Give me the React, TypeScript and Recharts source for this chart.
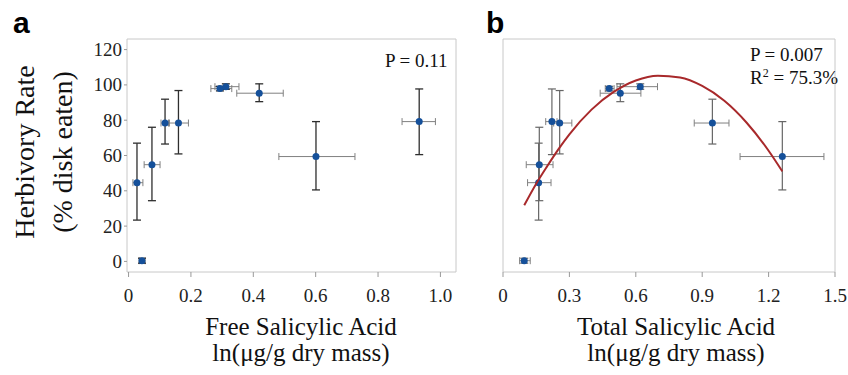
import React from 'react';
import { ScatterChart, Scatter, XAxis, YAxis, ErrorBar, ReferenceArea } from 'recharts';

// herbivory rate (% disk eaten) per sample, with error bar ends
const herbivory = [44.6, 0.4, 54.8, 78.4, 78.4, 97.9, 99.0, 95.3, 59.4, 79.2];
const herbLow = [23.4, -1.0, 34.4, 66.5, 60.9, 96.6, 97.5, 90.5, 40.5, 60.5];
const herbHigh = [67.0, 1.8, 76.0, 91.9, 96.8, 99.2, 100.6, 100.6, 79.2, 97.7];

// free salicylic acid, ln(ug/g dry mass)
const freeSA = [0.027, 0.043, 0.075, 0.117, 0.16, 0.293, 0.312, 0.419, 0.601, 0.932];
const freeSALow = [0.014, 0.034, 0.05, 0.104, 0.128, 0.264, 0.277, 0.347, 0.482, 0.877];
const freeSAHigh = [0.046, 0.053, 0.101, 0.131, 0.192, 0.331, 0.354, 0.496, 0.726, 0.984];

// total salicylic acid, ln(ug/g dry mass)
const totalSA = [0.161, 0.096, 0.164, 0.946, 0.256, 0.48, 0.62, 0.53, 1.262, 0.221];
const totalSALow = [0.111, 0.075, 0.105, 0.864, 0.229, 0.462, 0.515, 0.439, 1.071, 0.193];
const totalSAHigh = [0.217, 0.123, 0.226, 1.021, 0.311, 0.502, 0.698, 0.623, 1.45, 0.244];

// quadratic fit curve
const fitX = [0.096, 0.15, 0.2, 0.25, 0.3, 0.4, 0.5, 0.6, 0.7, 0.8, 0.9, 1.0, 1.1, 1.2, 1.262];
const fitY = [31.8, 44, 54, 63.5, 72, 86, 96, 102.5, 105.2, 104.2, 99.4, 91, 78.7, 62.7, 51];

const freeTicks = [0, 0.2, 0.4, 0.6, 0.8, 1.0];
const totalTicks = [0, 0.3, 0.6, 0.9, 1.2, 1.5];
const yTicks = [0, 20, 40, 60, 80, 100, 120];

const freeDomain: [number, number] = [-0.005, 1.05];
const totalDomain: [number, number] = [0, 1.5];
const yDomain: [number, number] = [-6, 126];

const serif = '"Liberation Serif", "Times New Roman", serif';
const dotColor = '#15509a';

const fmt = (v: number) => (v === 0 ? '0' : v.toFixed(1));

function buildPoints(xs: number[], lo: number[], hi: number[]) {
  return xs.map((x, i) => ({
    x,
    y: herbivory[i],
    xErr: [x - lo[i], hi[i] - x],
    yErr: [herbivory[i] - herbLow[i], herbHigh[i] - herbivory[i]],
  }));
}

const freePoints = buildPoints(freeSA, freeSALow, freeSAHigh);
const totalPoints = buildPoints(totalSA, totalSALow, totalSAHigh);
const fitPoints = fitX.map((x, i) => ({ x, y: fitY[i] }));

const Dot = (p: any) => <circle cx={p.cx} cy={p.cy} r={3.5} fill={dotColor} />;

const XTick = (p: any) => (
  <text x={p.x} y={p.y} dy="0.71em" textAnchor="middle" fontFamily={serif} fontSize={19} fill="#222">
    {fmt(p.payload.value)}
  </text>
);

const YTick = (p: any) => (
  <text x={p.x} y={p.y} dy="0.34em" textAnchor="end" fontFamily={serif} fontSize={19} fill="#222">
    {p.payload.value}
  </text>
);

export default function App() {
  return (
    <div style={{ position: 'absolute', left: 0, top: 0, width: 848, height: 375, background: '#fff' }}>
      <div style={{ position: 'absolute', left: 0, top: 0 }}>
        <ScatterChart width={480} height={375} margin={{ top: 39, right: 24, bottom: 0, left: 0 }}>
          <XAxis
            dataKey="x"
            type="number"
            domain={freeDomain}
            ticks={freeTicks}
            interval={0}
            allowDataOverflow
            axisLine={false}
            tickLine={{ stroke: '#999' }}
            tickSize={5}
            tickMargin={12}
            tick={XTick}
            height={103}
          />
          <YAxis
            dataKey="y"
            type="number"
            domain={yDomain}
            ticks={yTicks}
            interval={0}
            allowDataOverflow
            axisLine={false}
            tickLine={{ stroke: '#999' }}
            tickSize={3}
            tickMargin={2}
            tick={YTick}
            width={127}
          />
          <ReferenceArea x1={freeDomain[0]} x2={freeDomain[1]} y1={yDomain[0]} y2={yDomain[1]} fill="none" stroke="#c8c8c8" />
          <Scatter data={freePoints} shape={Dot} isAnimationActive={false}>
            <ErrorBar dataKey="xErr" direction="x" width={3.5} stroke="#808080" strokeWidth={1} isAnimationActive={false} />
            <ErrorBar dataKey="yErr" direction="y" width={4} stroke="#2e2e2e" strokeWidth={1.3} isAnimationActive={false} />
          </Scatter>
        </ScatterChart>
      </div>
      <div style={{ position: 'absolute', left: 480, top: 0 }}>
        <ScatterChart width={368} height={375} margin={{ top: 39, right: 13, bottom: 0, left: 0 }}>
          <XAxis
            dataKey="x"
            type="number"
            domain={totalDomain}
            ticks={totalTicks}
            interval={0}
            allowDataOverflow
            axisLine={false}
            tickLine={{ stroke: '#999' }}
            tickSize={5}
            tickMargin={12}
            tick={XTick}
            height={103}
          />
          <YAxis
            dataKey="y"
            type="number"
            domain={yDomain}
            ticks={yTicks}
            interval={0}
            allowDataOverflow
            axisLine={false}
            tickLine={{ stroke: '#999' }}
            tickSize={3}
            tick={false}
            width={23}
          />
          <ReferenceArea x1={totalDomain[0]} x2={totalDomain[1]} y1={yDomain[0]} y2={yDomain[1]} fill="none" stroke="#c8c8c8" />
          <Scatter data={totalPoints} shape={Dot} isAnimationActive={false}>
            <ErrorBar dataKey="xErr" direction="x" width={3.5} stroke="#808080" strokeWidth={1} isAnimationActive={false} />
            <ErrorBar dataKey="yErr" direction="y" width={4} stroke="#666" strokeWidth={1.2} isAnimationActive={false} />
          </Scatter>
          <Scatter
            data={fitPoints}
            line={{ stroke: '#a8292b', strokeWidth: 2 }}
            lineJointType="monotoneX"
            shape={() => <g />}
            isAnimationActive={false}
          />
        </ScatterChart>
      </div>
      <svg width={848} height={375} style={{ position: 'absolute', left: 0, top: 0, pointerEvents: 'none' }}>
        <g fontFamily='"Liberation Sans", Arial, sans-serif' fontWeight="bold" fontSize={30} fill="#000">
          <text x={13} y={33}>a</text>
          <text x={486} y={33}>b</text>
        </g>
        <g fontFamily={serif} fill="#111">
          <text x={385} y={66.5} fontSize={19}>P = 0.11</text>
          <text x={750} y={60.5} fontSize={19}>P = 0.007</text>
          <text x={750} y={83.5} fontSize={19}>
            R<tspan fontSize={12} dy={-7}>2</tspan>
            <tspan dy={7}> = 75.3%</tspan>
          </text>
          <text x={301} y={335} fontSize={25} textAnchor="middle">Free Salicylic Acid</text>
          <text x={301} y={361} fontSize={25} textAnchor="middle">ln(μg/g dry mass)</text>
          <text x={676} y={335} fontSize={25} textAnchor="middle">Total Salicylic Acid</text>
          <text x={676} y={361} fontSize={25} textAnchor="middle">ln(μg/g dry mass)</text>
          <text transform="translate(34,152) rotate(-90)" fontSize={28} textAnchor="middle">Herbivory Rate</text>
          <text transform="translate(72,152) rotate(-90)" fontSize={28} textAnchor="middle">(% disk eaten)</text>
        </g>
      </svg>
    </div>
  );
}
